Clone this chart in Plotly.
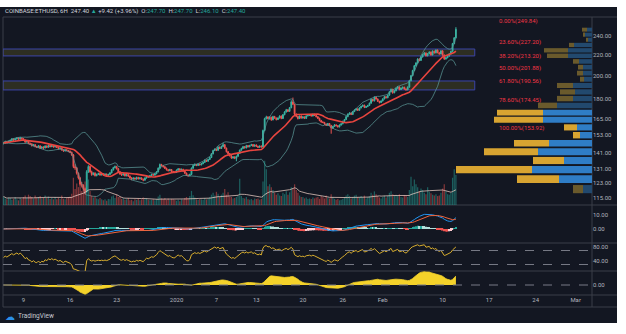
import math
import numpy as np
import pandas as pd
import plotly.graph_objects as go

# ---------------- data ----------------
first_candle = "2019-12-06 00:00"
first_open = 147.2

closes = [
    147.6, 148.4, 147.9, 148.5,  149.2, 150.1, 149.5, 150.3,  150.8, 150.2, 151.0, 150.4,
    149.5, 148.2, 148.8, 147.3,  146.9, 145.8, 146.4, 145.2,  144.8, 145.6, 144.1, 144.9,
    144.3, 145.5, 144.7, 145.9,  145.1, 145.8, 144.9, 145.3,  144.6, 143.8, 144.2, 142.9,
    142.3, 143.1, 142.6, 142.1,  141.4, 139.8, 132.5, 131.8,  128.6, 125.9, 122.4, 121.7,
    119.8, 118.2, 129.5, 132.6,  129.4, 127.8, 128.6, 127.2,  127.9, 128.4, 127.6, 128.2,
    127.5, 128.1, 127.3, 127.9,  128.8, 130.6, 131.9, 132.5,  131.2, 129.4, 128.1, 127.6,
    128.3, 127.1, 127.8, 126.9,  125.9, 125.2, 125.8, 125.3,  126.1, 125.4, 125.9, 125.1,
    124.6, 125.8, 126.9, 126.4,  127.2, 127.9, 127.5, 128.3,  129.4, 131.6, 133.8, 133.1,
    132.4, 131.5, 130.6, 130.1,  130.8, 129.6, 129.2, 129.1,
    130.4, 131.2, 130.5, 130.9,  129.8, 128.6, 127.4, 127.1,  127.9, 131.6, 133.2, 133.8,
    133.2, 134.1, 133.6, 134.3,  135.1, 136.4, 135.8, 136.9,  138.1, 140.5, 142.6, 143.4,
    142.7, 144.8, 143.9, 145.2,  146.4, 144.1, 141.8, 140.6,  139.2, 137.8, 138.5, 137.6,
    138.9, 140.7, 142.8, 143.9,  145.1, 144.3, 145.8, 145.0,  145.9, 146.5, 145.4, 146.2,
    145.3, 144.7, 145.5, 144.9,  156.2, 164.8, 166.1, 164.9,  165.8, 163.9, 166.4, 165.2,
    164.1, 165.3, 166.8, 164.9,  167.8, 169.9, 171.6, 170.4,  173.2, 177.8, 175.9, 168.2,
    166.4, 164.9, 166.8, 165.3,  166.1, 165.0, 166.9, 167.2,  167.9, 166.8, 168.1, 167.3,
    166.2, 165.1, 163.4, 162.3,  162.0, 160.8, 159.9, 161.2,  159.8, 157.9, 159.1, 160.2,
    159.6, 158.8, 160.1, 161.0,  162.8, 164.1, 166.3, 168.2,  169.1, 168.0, 170.2, 171.4,
    172.3, 171.2, 173.1, 174.3,  175.2, 173.4, 174.1, 175.0,  176.8, 179.9, 178.7, 181.6,
    180.2, 178.3, 177.4, 178.6,
    180.3, 182.1, 181.2, 183.4,  186.2, 188.3, 185.4, 187.1,  189.2, 190.4, 188.1, 189.3,
    190.1, 188.6, 187.9, 190.2,  195.8, 200.4, 205.1, 209.6,  212.3, 216.1, 214.8, 218.2,
    220.4, 222.1, 219.3, 221.4,  223.1, 220.2, 224.0, 222.3,  225.1, 222.4, 221.2, 224.3,
    220.1, 216.2, 217.4, 219.1,  221.3, 223.8, 231.9, 238.0,
    247.4,
]

highs = [
    148.3, 149.0, 148.8, 149.1,  149.8, 150.9, 150.6, 151.0,  151.4, 151.3, 151.8, 151.4,
    150.9, 149.9, 149.3, 149.2,  147.8, 147.4, 146.9, 146.8,  145.7, 146.1, 146.0, 145.4,
    145.3, 146.0, 145.9, 146.5,  146.4, 146.3, 146.2, 145.8,  145.7, 145.0, 144.6, 144.6,
    143.4, 143.6, 143.5, 143.0,  142.6, 141.9, 140.3, 133.9,  132.2, 129.0, 126.5, 123.6,
    122.3, 120.5, 130.4, 133.4,  133.1, 130.1, 129.1, 129.2,  128.4, 128.9, 128.8, 128.7,
    128.6, 128.5, 128.4, 128.3,  129.2, 131.0, 132.4, 133.2,  133.0, 131.7, 129.9, 128.6,
    128.7, 128.8, 128.2, 128.3,  127.3, 126.3, 126.2, 126.1,  126.6, 126.5, 126.3, 126.2,
    125.5, 126.2, 127.3, 127.2,  127.6, 128.3, 128.2, 128.7,  129.8, 132.0, 134.4, 134.2,
    133.5, 132.8, 131.9, 131.0,  131.2, 131.1, 130.0, 129.7,
    130.8, 131.6, 131.5, 131.3,  131.2, 130.2, 129.0, 127.9,  128.3, 132.0, 133.7, 134.5,
    134.2, 134.5, 134.4, 134.7,  135.5, 136.9, 136.8, 137.3,  138.5, 140.9, 143.1, 144.0,
    143.9, 145.3, 145.2, 145.8,  147.7, 146.8, 144.5, 142.2,  141.0, 139.6, 138.9, 138.9,
    139.3, 141.1, 143.2, 144.4,  145.6, 145.5, 146.3, 146.1,  146.3, 147.0, 146.9, 146.6,
    146.6, 145.7, 145.9, 145.9,  156.8, 165.5, 167.0, 166.6,  166.6, 166.3, 167.0, 166.9,
    165.7, 165.8, 167.3, 167.2,  168.3, 170.5, 172.3, 172.0,  173.8, 179.2, 181.4, 176.4,
    168.7, 167.0, 167.2, 167.3,  166.6, 166.5, 167.4, 167.8,  168.3, 168.4, 168.6, 168.5,
    167.7, 166.7, 165.5, 163.9,  162.8, 162.4, 161.2, 161.6,  161.6, 160.2, 159.5, 160.7,
    160.6, 160.0, 160.5, 161.4,  163.3, 164.6, 166.8, 168.7,  169.6, 169.5, 170.7, 171.9,
    172.8, 172.7, 173.6, 174.8,  175.7, 175.6, 174.6, 175.5,  177.3, 180.5, 180.3, 182.3,
    182.1, 180.7, 178.8, 179.1,
    180.8, 182.6, 182.5, 183.9,  186.7, 189.0, 188.8, 187.6,  189.7, 191.2, 190.8, 189.8,
    190.6, 190.5, 189.1, 190.8,  196.4, 201.1, 205.8, 210.4,  213.0, 216.9, 216.8, 218.9,
    221.1, 223.0, 222.7, 222.0,  223.8, 223.6, 224.8, 224.5,  225.9, 225.7, 223.0, 224.9,
    224.8, 220.6, 217.9, 219.7,  221.9, 224.4, 232.6, 238.8,
    249.8,
]

lows = [
    146.6, 147.1, 147.4, 147.5,  148.0, 148.9, 149.0, 149.2,  149.9, 149.7, 149.9, 150.0,
    149.0, 147.6, 147.8, 146.8,  146.2, 145.2, 145.3, 144.6,  144.2, 144.5, 143.6, 143.8,
    143.5, 144.0, 144.2, 144.5,  144.7, 144.8, 144.5, 144.6,  144.2, 143.3, 143.4, 142.5,
    141.8, 142.0, 142.2, 141.5,  140.9, 139.2, 131.6, 130.6,  127.8, 125.0, 121.6, 120.5,
    118.9, 116.9, 117.8, 128.8,  128.9, 127.1, 127.4, 126.7,  126.8, 127.5, 127.1, 127.3,
    127.1, 127.2, 126.9, 127.0,  127.6, 128.5, 130.2, 131.5,  130.8, 129.0, 127.7, 127.0,
    127.2, 126.7, 126.8, 126.4,  125.4, 124.6, 124.9, 124.9,  124.9, 125.0, 125.0, 124.7,
    124.0, 124.3, 125.5, 126.0,  126.1, 126.9, 127.1, 127.2,  128.0, 129.1, 131.3, 132.7,
    132.0, 131.1, 130.2, 129.7,  129.8, 129.3, 128.8, 128.6,
    128.9, 130.1, 130.2, 130.2,  129.5, 128.3, 127.0, 126.6,  126.8, 127.6, 131.2, 132.9,
    132.8, 132.9, 133.2, 133.3,  134.0, 134.8, 135.4, 135.5,  136.6, 137.8, 140.1, 142.2,
    142.2, 142.4, 143.5, 143.6,  144.9, 143.7, 141.3, 139.9,  138.8, 137.3, 137.4, 137.1,
    135.8, 138.6, 140.4, 142.5,  143.5, 143.9, 144.0, 144.6,  144.7, 145.5, 145.0, 145.1,
    144.9, 144.2, 144.4, 144.5,  144.6, 155.7, 164.2, 164.3,  164.1, 163.2, 163.6, 164.8,
    163.5, 163.8, 165.0, 164.4,  164.6, 167.4, 169.5, 169.9,  170.0, 172.8, 175.3, 167.5,
    165.8, 164.2, 164.5, 164.8,  164.8, 164.5, 164.7, 166.5,  166.8, 166.4, 166.5, 166.9,
    165.8, 164.6, 162.9, 161.8,  161.5, 160.3, 159.4, 159.5,  159.3, 153.9, 157.4, 158.8,
    159.1, 158.3, 158.4, 159.7,  160.6, 162.4, 163.8, 165.9,  167.8, 167.5, 167.7, 169.8,
    171.0, 170.7, 170.9, 172.7,  173.9, 172.9, 173.0, 173.7,  174.6, 176.4, 178.2, 178.3,
    179.7, 177.8, 176.6, 177.0,
    178.2, 179.9, 180.7, 180.9,  183.0, 185.8, 184.6, 185.0,  186.6, 188.8, 187.5, 187.7,
    188.8, 188.1, 187.2, 187.5,  189.8, 195.3, 199.9, 204.6,  208.9, 211.7, 213.9, 214.3,
    217.6, 219.8, 218.6, 218.8,  220.9, 219.5, 219.7, 221.6,  221.8, 221.9, 220.5, 220.8,
    219.4, 215.3, 215.6, 216.9,  218.5, 220.8, 223.3, 231.2,
    237.4,
]

volumes = [
    18, 14, 12, 16,  15, 11, 13, 17,  12, 10, 15, 13,  17, 20, 15, 22,  19, 17, 14, 20,
    15, 17, 19, 14,  17, 20, 15, 18,  13, 15, 12, 17,  12, 15, 13, 20,  13, 12, 15, 17,
    18, 24, 58, 34,  46, 38, 52, 30,  42, 50, 70, 54,  30, 20, 16, 18,  14, 12, 15, 12,
    10, 12, 9, 13,  12, 18, 20, 15,  22, 17, 18, 13,  14, 11, 12, 15,  10, 11, 8, 12,
    11, 14, 10, 12,  16, 12, 14, 11,  10, 11, 12, 10,  12, 18, 22, 14,  12, 15, 11, 14,
    11, 13, 12, 11,
    9, 11, 8, 12,  11, 15, 17, 14,  19, 30, 21, 16,  12, 11, 13, 12,  11, 15, 12, 14,
    17, 22, 26, 20,  28, 24, 18, 22,  26, 34, 22, 27,  18, 17, 14, 15,  17, 20, 56, 19,
    15, 14, 17, 12,  11, 13, 10, 14,  13, 14, 11, 13,  50, 94, 76, 40,  44, 38, 32, 26,
    22, 25, 20, 19,  26, 23, 29, 22,  27, 38, 35, 44,  32, 26, 20, 17,  17, 14, 16, 13,
    14, 13, 16, 14,  16, 17, 13, 19,  17, 14, 20, 16,  14, 23, 17, 13,  11, 13, 10, 11,
    13, 17, 20, 23,  19, 14, 17, 20,  22, 17, 16, 19,  17, 20, 14, 16,  19, 26, 22, 29,
    23, 19, 16, 14,
    17, 20, 16, 19,  26, 29, 23, 20,  22, 19, 23, 17,  16, 20, 19, 17,  32, 60, 40, 54,
    44, 38, 29, 35,  32, 26, 23, 38,  28, 25, 22, 20,  23, 19, 20, 26,  35, 44, 29, 23,
    22, 26, 58, 76,
    64,
]

# volume profile (24 rows, bottom -> top)
profile_down = [10, 42, 76, 31, 54, 35, 7, 13, 49, 46, 19, 16, 15, 16, 4, 6, 5, 6, 21, 24, 5, 2, 2, 5]
profile_up = [9, 33, 60, 28, 54, 43, 12, 15, 49, 49, 35, 19, 17, 19, 8, 9, 9, 13, 24, 24, 18, 4, 7, 5]
value_area_rows = [1, 2, 3, 4, 5, 6, 7, 8, 9]

# fibonacci retracement
fib_high = 249.84
fib_low = 153.92
fib_ratios = [0.0, 0.236, 0.382, 0.5, 0.618, 0.786, 1.0]

# support / resistance zones (price bounds)
zone_bounds = [(187.8, 195.6), (219.2, 226.2)]
zone_end = "2020-02-14 20:00"

price_ticks = [115, 123, 131, 141, 153, 165, 180, 200, 220, 240]
macd_ticks = [0, 10]
rsi_ticks = [40, 80]
osc_ticks = [0]
date_ticks = ["2019-12-09", "2019-12-16", "2019-12-23", "2020-01-01", "2020-01-07", "2020-01-13",
              "2020-01-20", "2020-01-26", "2020-02-01", "2020-02-10", "2020-02-17", "2020-02-24",
              "2020-03-01"]
date_labels = ["9", "16", "23", "2020", "7", "13", "20", "26", "Feb", "10", "17", "24", "Mar"]

header_symbol = "COINBASE:ETHUSD, 6H"
header_last = "247.40"
header_change = "+9.42 (+3.96%)"
header_ohlc = [("O", "247.70"), ("H", "247.70"), ("L", "246.10"), ("C", "247.40")]

assert len(closes) == len(highs) == len(lows) == len(volumes)

# ---------------- derived series ----------------
n = len(closes)
times = pd.date_range(first_candle, periods=n, freq="6h")
opens = [first_open] + closes[:-1]
highs = [max(h, o, c) for h, o, c in zip(highs, opens, closes)]
lows = [min(l, o, c) for l, o, c in zip(lows, opens, closes)]

s = pd.Series(closes)
basis = s.rolling(20, min_periods=1).mean()
sd = s.rolling(20, min_periods=1).std(ddof=0)
upper = basis + 2 * sd
lower = basis - 2 * sd
vol_ma = pd.Series(volumes).rolling(20, min_periods=1).mean()

ema12 = s.ewm(span=12, adjust=False).mean()
ema26 = s.ewm(span=26, adjust=False).mean()
macd = ema12 - ema26
signal = macd.ewm(span=9, adjust=False).mean()
hist = macd - signal
hist_colors = []
for i, h in enumerate(hist):
    prev = hist.iloc[i - 1] if i > 0 else 0
    if h >= 0:
        hist_colors.append("#26a69a" if h >= prev else "#b2dfdb")
    else:
        hist_colors.append("#ffcdd2" if h >= prev else "#ef5350")

# RSI(14), Wilder smoothing seeded with the mean absolute move of the first 14 bars
delta = s.diff().fillna(0)
up_mv = delta.clip(lower=0)
dn_mv = -delta.clip(upper=0)
seed = delta.abs().iloc[1:15].mean() / 2
up_mv.iloc[0] = seed
dn_mv.iloc[0] = seed
gain = up_mv.ewm(alpha=1 / 14, adjust=False).mean()
loss = dn_mv.ewm(alpha=1 / 14, adjust=False).mean()
rsi = 100 - 100 / (1 + gain / loss.replace(0, 1e-9))

ewo = s.rolling(5, min_periods=1).mean() - s.rolling(35, min_periods=1).mean()

vol_colors = ["rgba(38,166,154,0.5)" if c >= o else "rgba(239,83,80,0.5)" for o, c in zip(opens, closes)]

# profile rows
p_lo, p_hi = min(lows), max(highs)
rows = len(profile_up)
step = (p_hi - p_lo) / rows
row_lo = [p_lo + k * step for k in range(rows)]
row_hi = [p_lo + (k + 1) * step for k in range(rows)]
row_y = [(math.log10(a) + math.log10(b)) / 2 for a, b in zip(row_lo, row_hi)]
row_w = [(math.log10(b) - math.log10(a)) * 0.8 for a, b in zip(row_lo, row_hi)]
up_colors = ["#2f7dc6" if k in value_area_rows else "#22496e" for k in range(rows)]
down_colors = ["#d8a431" if k in value_area_rows else "#6a5a2c" for k in range(rows)]

# ---------------- figure ----------------
W, H = 626, 334


def py(px):
    return (H - px) / H


def pxx(px):
    return px / W


LOG_RANGE = [2.0465, 2.4177]
X_RANGE = ["2019-12-05 22:00", "2020-03-03 11:00"]
FONT = "Roboto, Liberation Sans, sans-serif"
TXT = "#b2b5be"

fig = go.Figure()

# volume (behind)
fig.add_trace(go.Bar(x=times, y=volumes, marker_color=vol_colors, marker_line_width=0,
                     xaxis="x", yaxis="y5", hoverinfo="skip"))
fig.add_trace(go.Scatter(x=times, y=vol_ma, mode="lines", line=dict(color="rgba(235,205,195,0.75)", width=1),
                         xaxis="x", yaxis="y5", hoverinfo="skip"))

# bollinger bands
fig.add_trace(go.Scatter(x=times, y=upper, mode="lines", line=dict(color="rgba(90,150,150,0.75)", width=1),
                         xaxis="x", yaxis="y"))
fig.add_trace(go.Scatter(x=times, y=lower, mode="lines", line=dict(color="rgba(90,150,150,0.75)", width=1),
                         xaxis="x", yaxis="y"))
fig.add_trace(go.Scatter(x=times, y=basis, mode="lines", line=dict(color="#e8453f", width=1.6),
                         xaxis="x", yaxis="y"))

# candles
fig.add_trace(go.Candlestick(x=times, open=opens, high=highs, low=lows, close=closes,
                             increasing=dict(line=dict(color="#3bb3a2", width=1), fillcolor="#3bb3a2"),
                             decreasing=dict(line=dict(color="#ef5350", width=1), fillcolor="#ef5350"),
                             whiskerwidth=0, xaxis="x", yaxis="y"))

# volume profile
fig.add_trace(go.Bar(x=profile_up, y=row_y, base=[0] * rows, width=row_w, orientation="h",
                     marker_color=up_colors, marker_line_width=0, xaxis="x2", yaxis="y6", hoverinfo="skip"))
fig.add_trace(go.Bar(x=profile_down, y=row_y, base=profile_up, width=row_w, orientation="h",
                     marker_color=down_colors, marker_line_width=0, xaxis="x2", yaxis="y6", hoverinfo="skip"))

# MACD
fig.add_trace(go.Bar(x=times, y=hist, marker_color=hist_colors, marker_line_width=0, xaxis="x", yaxis="y2"))
fig.add_trace(go.Scatter(x=times, y=macd, mode="lines", line=dict(color="#2196f3", width=1), xaxis="x", yaxis="y2"))
fig.add_trace(go.Scatter(x=times, y=signal, mode="lines", line=dict(color="#f0643c", width=1), xaxis="x", yaxis="y2"))

# RSI
fig.add_trace(go.Scatter(x=times, y=rsi, mode="lines", line=dict(color="#d9ae2e", width=1), xaxis="x", yaxis="y3"))

# oscillator
fig.add_trace(go.Scatter(x=times, y=ewo, mode="lines", fill="tozeroy", fillcolor="#f4d22a",
                         line=dict(color="#f4d22a", width=0.8), xaxis="x", yaxis="y4"))

shapes = []
# dark background
shapes.append(dict(type="rect", xref="paper", yref="paper", x0=0, x1=pxx(617), y0=py(323), y1=py(7),
                   fillcolor="#131722", line=dict(width=0), layer="below"))
# separators
for yy in [17, 205, 243, 271, 295, 307]:
    shapes.append(dict(type="line", xref="paper", yref="paper", x0=pxx(3), x1=pxx(617), y0=py(yy), y1=py(yy),
                       line=dict(color="#3a3e49", width=1), layer="below"))
for xx in [3, 592]:
    shapes.append(dict(type="line", xref="paper", yref="paper", x0=pxx(xx), x1=pxx(xx), y0=py(307), y1=py(17),
                       line=dict(color="#3a3e49", width=1), layer="below"))
# zones
for lo_p, hi_p in zone_bounds:
    shapes.append(dict(type="rect", xref="x", yref="y6", x0=X_RANGE[0], x1=zone_end,
                       y0=math.log10(lo_p), y1=math.log10(hi_p),
                       fillcolor="rgba(105,100,35,0.30)", line=dict(color="#3b44a8", width=1), layer="below"))
# RSI bands & osc zero
for lvl in [70, 30]:
    shapes.append(dict(type="line", xref="x domain", yref="y3", x0=0, x1=1, y0=lvl, y1=lvl,
                       line=dict(color="#787b86", width=1, dash="dash")))
shapes.append(dict(type="line", xref="x domain", yref="y4", x0=0, x1=1, y0=0, y1=0,
                   line=dict(color="#787b86", width=1, dash="dash")))

annotations = []
for r in fib_ratios:
    lvl = fib_high - r * (fib_high - fib_low)
    annotations.append(dict(x="2020-02-18 05:00", y=math.log10(lvl), xref="x", yref="y6",
                            text=f"{r * 100:.2f}%({lvl:.2f})", showarrow=False, xanchor="left",
                            yanchor="bottom", font=dict(color="#f23645", size=6, family=FONT)))

teal = "#26a69a"
hdr = (f'<span style="color:#d1d4dc">{header_symbol}  {header_last} </span>'
       f'<span style="color:{teal}">▲</span><span style="color:#d1d4dc"> {header_change}  </span>'
       + "  ".join(f'<span style="color:#d1d4dc">{k}:</span><span style="color:{teal}">{v}</span>'
                   for k, v in header_ohlc))
annotations.append(dict(x=pxx(3), y=py(11.5), xref="paper", yref="paper", text=hdr, showarrow=False,
                        xanchor="left", yanchor="middle", font=dict(size=6, family=FONT, color="#d1d4dc")))
annotations.append(dict(x=pxx(3), y=py(316), xref="paper", yref="paper", text="☁", showarrow=False,
                        xanchor="left", yanchor="middle", font=dict(size=10, color="#2a8fe8",
                                                                   family="DejaVu Sans")))
annotations.append(dict(x=pxx(16), y=py(316), xref="paper", yref="paper", text="TradingView", showarrow=False,
                        xanchor="left", yanchor="middle", font=dict(size=6.5, color="#c8cbd3", family=FONT)))


def yax(domain_px, rng, ticks, **kw):
    d = dict(domain=[py(domain_px[1]), py(domain_px[0])], range=rng, anchor="x", side="right",
             tickvals=ticks, ticktext=[f"{t:.2f}" for t in ticks], tickfont=dict(size=6, color=TXT, family=FONT),
             showgrid=False, zeroline=False, showline=False, ticks="", fixedrange=True)
    d.update(kw)
    return d


fig.update_layout(
    width=W, height=H, margin=dict(l=0, r=0, t=0, b=0),
    paper_bgcolor="white", plot_bgcolor="rgba(0,0,0,0)",
    showlegend=False, barmode="overlay", bargap=0.25,
    font=dict(family=FONT, color=TXT),
    xaxis=dict(domain=[pxx(3), pxx(592)], type="date", range=X_RANGE, anchor="y4",
               tickvals=date_ticks, ticktext=date_labels, tickfont=dict(size=6, color=TXT, family=FONT),
               showgrid=False, zeroline=False, showline=False, ticks="", rangeslider=dict(visible=False)),
    xaxis2=dict(overlaying="x", range=[589, 0], visible=False, anchor="y6"),
    yaxis=yax((17, 205), LOG_RANGE, price_ticks, type="log"),
    yaxis2=yax((205, 243), [-10, 17.1], macd_ticks),
    yaxis3=yax((243, 271), [11.4, 91.4], rsi_ticks),
    yaxis4=yax((271, 295), [-20, 28], osc_ticks),
    yaxis5=dict(overlaying="y", range=[0, 400], visible=False, anchor="x"),
    yaxis6=dict(overlaying="y", range=LOG_RANGE, visible=False, anchor="x"),
    shapes=shapes, annotations=annotations,
)

fig.write_html("out.html")
